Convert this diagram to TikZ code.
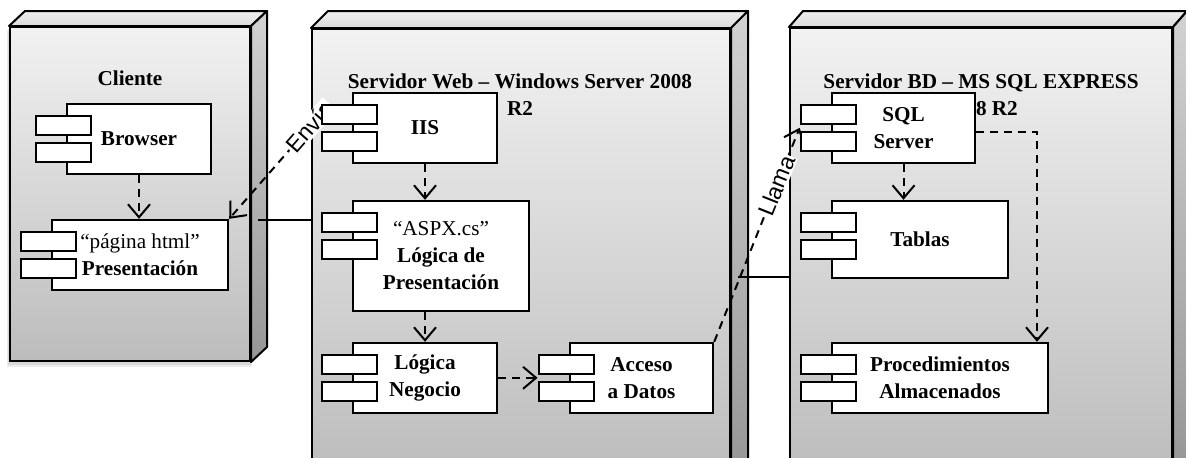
\documentclass[tikz,border=0pt]{standalone}
\usepackage{fontspec}
\setmainfont{Liberation Serif}
\newfontfamily\arialf{Liberation Sans}
\usetikzlibrary{arrows.meta,calc}
\pgfdeclarelayer{bg}
\pgfdeclarelayer{mid}
\pgfsetlayers{bg,mid,main}
\definecolor{faceTop}{RGB}{242,242,242}
\definecolor{faceBot}{RGB}{188,188,188}
\definecolor{sideTop}{RGB}{210,210,210}
\definecolor{sideBot}{RGB}{150,150,150}
\definecolor{lidTop}{RGB}{238,238,238}
\definecolor{lidBot}{RGB}{220,220,220}
\newcommand\boxfaces[3]{%
  \path[top color=lidTop,bottom color=lidBot,draw=black,line width=1pt,line join=round]
    (#1.north west) -- ++(#2,#3) -- ($(#1.north east)+(#2,#3)$) -- (#1.north east) -- cycle;
  \path[top color=sideTop,bottom color=sideBot,draw=black,line width=1pt,line join=round]
    (#1.north east) -- ++(#2,#3) -- ($(#1.south east)+(#2,#3)$) -- (#1.south east) -- cycle;
}
\newcommand\comptabs[1]{%
  \node[tabbox] (#1-t1) at ($(#1.north west)+(-2.5,22.5)$) {};
  \node[tabbox] (#1-t2) at ($(#1.north west)+(-2.5,49.5)$) {};
}
\begin{document}
\begin{tikzpicture}[x=0.5pt,y=-0.5pt,
  front/.style={draw=black,line width=1pt,top color=faceTop,bottom color=faceBot,inner sep=0pt},
  comp/.style={draw=black,line width=1.2pt,fill=white,inner sep=1pt,align=center,
    font=\fontsize{10.6}{13.5}\selectfont\bfseries},
  tabbox/.style={draw=black,line width=1.2pt,fill=white,minimum width=27.5pt,minimum height=9.5pt,inner sep=0pt},
  dep/.style={line width=1pt,dash pattern=on 4pt off 3pt,-{Straight Barb[length=6.5pt,width=11pt]}},
  conn/.style={line width=0.8pt},
  title/.style={font=\fontsize{10.6}{13.5}\selectfont\bfseries,align=center,inner sep=0pt},
  dlabel/.style={font=\arialf\fontsize{11.5}{13}\selectfont,fill=white,inner sep=0.6pt,sloped}
]
\useasboundingbox (0,0) rectangle (1186,457);

\begin{pgfonlayer}{bg}
  \fill[black,opacity=0.08] (7,30) rectangle (252,367);
  \fill[black,opacity=0.08] (8,29) rectangle (251,365);
  \node[front,minimum width=120pt,minimum height=167pt] (cli) at (130,194) {};
  \boxfaces{cli}{16}{-15}
  \node[front,minimum width=209pt,minimum height=223pt] (web) at (521,252) {};
  \boxfaces{web}{17}{-17}
  \node[front,minimum width=191pt,minimum height=223.5pt] (bd) at (981,251.5) {};
  \boxfaces{bd}{14}{-16}
  \node[title,anchor=base] (tcli) at (130,85) {Cliente};
  \node[title,anchor=base] (tweb) at (520,115) {Servidor Web – Windows Server 2008\\R2};
  \node[title,anchor=base] (tbd) at (981,115) {Servidor BD – MS SQL EXPRESS\\2008 R2};
\end{pgfonlayer}

\node[comp,minimum width=72pt,minimum height=35pt] (browser) at (139,139) {Browser};
\node[comp,minimum width=88pt,minimum height=35pt] (pres) at (140,255) {{\mdseries “página html”}\\Presentación};
\node[comp,minimum width=72pt,minimum height=35pt] (iis) at (425,128) {IIS};
\node[comp,minimum width=88pt,minimum height=55pt] (aspx) at (441,256) {{\mdseries “ASPX.cs”}\\Lógica de\\Presentación};
\node[comp,minimum width=72pt,minimum height=35pt] (neg) at (425,378) {Lógica\\Negocio};
\node[comp,minimum width=71.5pt,minimum height=35pt] (acc) at (641.5,378) {Acceso\\a Datos};
\node[comp,minimum width=71.5pt,minimum height=35pt] (sql) at (903.5,128) {SQL\\Server};
\node[comp,minimum width=88pt,minimum height=38.5pt] (tablas) at (920,239.5) {Tablas};
\node[comp,minimum width=108pt,minimum height=35pt] (proc) at (940,378) {Procedimientos\\Almacenados};
\foreach \c in {browser,pres,iis,aspx,neg,acc,sql,tablas,proc}{\comptabs{\c}}

\coordinate (accin) at ($(acc-t1.south west)!0.5!(acc-t2.north west)$);
\coordinate (sqlin) at ($(sql-t1.south west)!0.5!(sql-t2.north west)$);
\coordinate (sqlout) at ($(sql.east)+(0,4)$);
\coordinate (spx) at (1037,0);
\coordinate (cliside) at (258,220);
\coordinate (webside) at (738,277);

\begin{pgfonlayer}{mid}
  \draw[conn] (cliside) -- (cliside -| web.west);
  \draw[conn] (webside) -- (webside -| bd.west);
  \draw[dep] (browser.south) -- (browser.south |- pres.north);
  \draw[dep] (iis.south) -- (iis.south |- aspx.north);
  \draw[dep] (neg.north |- aspx.south) -- (neg.north);
  \draw[dep] (neg.east |- accin) -- (accin);
  \draw[dep] (sql.south) -- (sql.south |- tablas.north);
  \draw[dep] (sqlout) -| (spx |- proc.north);
  \draw[dep] (iis-t1.west) -- node[dlabel,pos=0.12] {Envía} (pres.north east);
  \draw[dep] (acc.north east) -- node[dlabel,pos=0.73] {Llama} (sqlin);
\end{pgfonlayer}
\end{tikzpicture}
\end{document}
